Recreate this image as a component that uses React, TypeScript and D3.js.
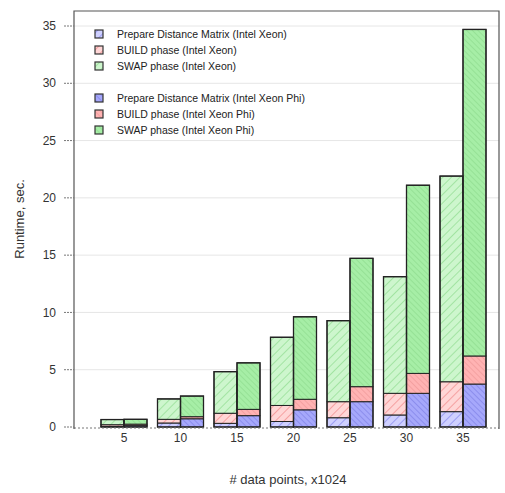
import React from "react";
import * as d3 from "d3";

const categories = [5, 10, 15, 20, 25, 30, 35];
const xeonPrep = [0.05, 0.35, 0.32, 0.48, 0.81, 1.05, 1.34];
const xeonBuild = [0.15, 0.32, 0.88, 1.4, 1.4, 1.89, 2.61];
const xeonSwap = [0.45, 1.78, 3.63, 5.95, 7.07, 10.18, 17.95];
const phiPrep = [0.12, 0.72, 0.99, 1.5, 2.21, 2.94, 3.75];
const phiBuild = [0.13, 0.18, 0.55, 0.92, 1.31, 1.74, 2.45];
const phiSwap = [0.42, 1.8, 4.06, 7.2, 11.2, 16.42, 28.5];
const yTicks = [0, 5, 10, 15, 20, 25, 30, 35];
const legendLabels = [
  "Prepare Distance Matrix (Intel Xeon)",
  "BUILD phase (Intel Xeon)",
  "SWAP phase (Intel Xeon)",
  "Prepare Distance Matrix (Intel Xeon Phi)",
  "BUILD phase (Intel Xeon Phi)",
  "SWAP phase (Intel Xeon Phi)",
];

const W = 505, H = 493;
const left = 74, right = 499, top = 11, bottom = 427;

const x = d3.scaleLinear().domain([5, 35]).range([124, 463]);
const y = d3.scaleLinear().domain([0, 35]).range([bottom, 26]);
const barW = 23;

const phases = ["prep", "build", "swap"];
const baseColors: Record<string, string> = { prep: "#a9abff", build: "#ffb3b3", swap: "#a8f0a8" };
const xeonBg: Record<string, string> = { prep: "#cfd0ff", build: "#ffd6d6", swap: "#cdf6cd" };
const xeonLine: Record<string, string> = { prep: "#8a8cf0", build: "#f29090", swap: "#95de95" };
const phiBg: Record<string, string> = { prep: "#a6a8fb", build: "#ffb3b3", swap: "#a6eea6" };
const phiLine: Record<string, string> = { prep: "#7375e0", build: "#e99090", swap: "#86d486" };

export default function App() {
  const groups = [
    { key: "xeon", off: -barW, data: [xeonPrep, xeonBuild, xeonSwap] },
    { key: "phi", off: 0, data: [phiPrep, phiBuild, phiSwap] },
  ];
  const rects: JSX.Element[] = [];
  const outlines: JSX.Element[] = [];
  groups.forEach((g) => {
    categories.forEach((c, i) => {
      let acc = 0;
      g.data.forEach((arr, p) => {
        const v = arr[i];
        const y0 = y(acc), y1 = y(acc + v);
        rects.push(
          <rect key={`${g.key}-${i}-${p}`} x={x(c) + g.off} y={y1} width={barW} height={y0 - y1}
            fill={`url(#pat-${g.key}-${phases[p]})`} stroke="#222" strokeWidth={1} />
        );
        acc += v;
      });
      outlines.push(
        <rect key={`o-${g.key}-${i}`} x={x(c) + g.off} y={y(acc)} width={barW} height={y(0) - y(acc)}
          fill="none" stroke="#222" strokeWidth={1.3} />
      );
    });
  });

  const font = "Liberation Sans, Arial, sans-serif";

  return (
    <svg width={W} height={H} style={{ position: "absolute", left: 0, top: 0, background: "#fff" }}>
      <defs>
        {phases.map((p) => (
          <pattern key={`px-${p}`} id={`pat-xeon-${p}`} patternUnits="userSpaceOnUse" width={6} height={6}
            patternTransform="rotate(45)">
            <rect width={6} height={6} fill={xeonBg[p]} />
            <line x1={0} y1={0} x2={0} y2={6} stroke={xeonLine[p]} strokeWidth={1.5} />
          </pattern>
        ))}
        {phases.map((p) => (
          <pattern key={`pp-${p}`} id={`pat-phi-${p}`} patternUnits="userSpaceOnUse" width={4} height={4}
            patternTransform="rotate(-45)">
            <rect width={4} height={4} fill={phiBg[p]} />
            <line x1={0} y1={0} x2={0} y2={4} stroke={phiLine[p]} strokeWidth={1} />
          </pattern>
        ))}
      </defs>

      {/* gridlines */}
      {yTicks.slice(1).map((t) => (
        <line key={`g${t}`} x1={left} x2={right} y1={y(t)} y2={y(t)} stroke="#e6e6e6" strokeWidth={1} />
      ))}

      {rects}
      {outlines}

      {/* baseline dotted */}
      <line x1={left} x2={right} y1={bottom + 1} y2={bottom + 1} stroke="#777" strokeWidth={1} strokeDasharray="2,2" />

      {/* frame */}
      <path d={`M${left},${bottom + 2} V${top} H${right} V${bottom + 2}`} fill="none" stroke="#555" strokeWidth={1.2} />

      {/* y ticks */}
      {yTicks.map((t) => (
        <g key={`t${t}`}>
          <line x1={64} x2={left} y1={y(t)} y2={y(t)} stroke="#777" strokeWidth={1} strokeDasharray="2,1" />
          <text x={56} y={y(t)} dy="0.35em" textAnchor="end" fontFamily={font} fontSize={12} fill="#333">{t}</text>
        </g>
      ))}
      {/* x ticks */}
      {categories.map((c) => (
        <text key={`xl${c}`} x={x(c)} y={442} textAnchor="middle" fontFamily={font} fontSize={12} fill="#333">{c}</text>
      ))}
      <text x={288} y={484} textAnchor="middle" fontFamily={font} fontSize={13} fill="#333"># data points, x1024</text>
      <text transform={`translate(24,${(top + bottom) / 2}) rotate(-90)`} textAnchor="middle" fontFamily={font}
        fontSize={13} fill="#333">Runtime, sec.</text>

      {/* legend */}
      {legendLabels.map((lab, i) => {
        const yy = [34, 50, 66, 98, 114, 130][i];
        const g = i < 3 ? "xeon" : "phi";
        const p = phases[i % 3];
        return (
          <g key={`lg${i}`}>
            <rect x={95} y={yy - 4} width={8} height={8} fill={`url(#pat-${g}-${p})`} stroke="#333" strokeWidth={1.2} />
            <text x={117} y={yy} dy="0.35em" fontFamily={font} fontSize={10.5} fill="#222">{lab}</text>
          </g>
        );
      })}
    </svg>
  );
}
